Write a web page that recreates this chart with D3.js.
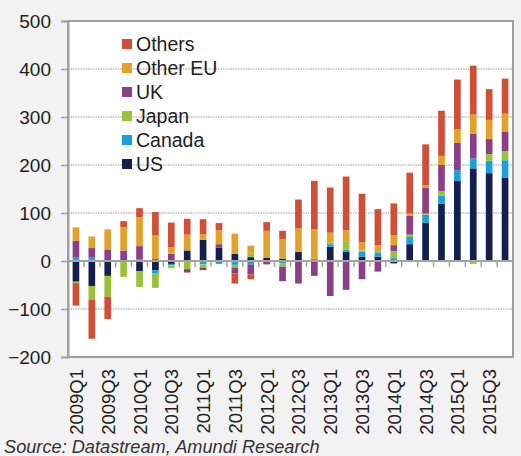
<!DOCTYPE html>
<meta charset="utf-8">
<style>
body{ margin: 0; background: #f3f2f2; font-family: "Liberation Sans", Arial, sans-serif; }
svg{ display: block; }
</style>
<body>
<script src="https://cdn.jsdelivr.net/npm/d3@7"></script>
<script>

var quarters = []
for (var yr = 2009; yr <= 2015; yr++) for (var q = 1; q <= 4; q++) quarters.push(yr + 'Q' + q)

// stacking order from the axis outwards
var series = ['US', 'Canada', 'Japan', 'UK', 'Other EU', 'Others']
var colors = ['#141f4e', '#1aa0dc', '#9bc13c', '#8b3f87', '#e2a128', '#d04f37']

var us      = [-43,-52,-31,  0,-21,-19, -6, 22, 44, 28, 15,  8,  7,  5, 19,  0, 30, 19,  9,  9, -5, 35, 80,119,167,193,183,174]
var canada  = [  7,  7,  0,  0,  3, -6, -3,  0, -7, -6, -8, -7, -2, -5,  0,  4,  5,  5, 10,  9,  6, 15, 16, 17, 22, 21, 26, 36]
var japan   = [ -3,-29,-43,-33,-33,-31, -6,-17, -7,  0, -6,  7,  0, -7,  0,  0,  3, 16,  3,  3, 15,  5,  3, 10,  0, -6, 14, 19]
var uk      = [ 35, 20, 24, 22, 28,  4, 15, -7, -5,  7,-12,-21, -5,-30,-47,-31,-73,-60,-38,-22, 12, 39, 53, 54, 57, 51, 31, 41]
var otherEu = [ 28, 24, 42, 49, 60, 49, 14, 33, 12, 29, 42, 17, 56, 41, 49, 62, 21, 24, 17, 12, 21,  5,  6, 19, 28, 40, 40, 37]
var others  = [-47,-81,-47, 12, 19, 49, 51, 33, 31, 15,-21,-10, 18, 17, 60,101, 94,112,101, 75, 66, 85, 85, 94,104,102, 64, 73]

var values = [us, canada, japan, uk, otherEu, others]
var yTicks = [-200, -100, 0, 100, 200, 300, 400, 500]
var xLabels = quarters.filter(function(d, i){ return i % 2 == 0 })

var W = 521, H = 456
var pL = 68, pR = 513, pT = 21, pB = 357

var svg = d3.select('body').append('svg').attr('width', W).attr('height', H)

var x = d3.scaleBand().domain(quarters).range([pL, pR]).paddingInner(0.58).paddingOuter(0.29)
var y = d3.scaleLinear().domain([-200, 500]).range([pB, pT])

svg.append('rect').attr('x', pL).attr('y', pT).attr('width', pR - pL).attr('height', pB - pT)
    .style('fill', 'white')

// dotted gridlines
svg.append('g').selectAll('line').data(yTicks.filter(function(d){ return d != 0 && d != 500 && d != -200 }))
  .enter().append('line')
    .attr('x1', pL).attr('x2', pR)
    .attr('y1', function(d){ return y(d) }).attr('y2', function(d){ return y(d) })
    .style('stroke', '#9a9a9a').style('stroke-width', 1).style('stroke-dasharray', '1.5,1')

// stacked bars, positives up and negatives down
var rows = quarters.map(function(q, i){
  var pos = 0, neg = 0
  return values.map(function(s, k){
    var v = s[i], y0, y1
    if (v >= 0){ y0 = pos; pos += v; y1 = pos }
    else { y0 = neg; neg += v; y1 = neg }
    return {q: q, k: k, y0: y0, y1: y1}
  })
})

svg.append('g').selectAll('g').data(rows).enter().append('g')
  .selectAll('rect').data(function(d){ return d.filter(function(c){ return c.y0 != c.y1 }) })
  .enter().append('rect')
    .attr('x', function(d){ return x(d.q) })
    .attr('width', x.bandwidth())
    .attr('y', function(d){ return y(Math.max(d.y0, d.y1)) })
    .attr('height', function(d){ return Math.abs(y(d.y0) - y(d.y1)) })
    .style('fill', function(d){ return colors[d.k] })

// zero line with small ticks between bars
var step = x.step()
svg.append('line').attr('x1', pL).attr('x2', pR).attr('y1', y(0)).attr('y2', y(0))
    .style('stroke', '#a3a3a3').style('stroke-width', 2)
svg.append('g').selectAll('line').data(d3.range(1, quarters.length))
  .enter().append('line')
    .attr('x1', function(i){ return pL + i * step }).attr('x2', function(i){ return pL + i * step })
    .attr('y1', y(0)).attr('y2', y(0) + 6)
    .style('stroke', '#a3a3a3').style('stroke-width', 1.5)

// frame
svg.append('rect').attr('x', pL).attr('y', pT).attr('width', pR - pL).attr('height', pB - pT)
    .style('fill', 'none').style('stroke', '#a0a0a0').style('stroke-width', 2)

// y axis
var yAxis = svg.append('g').attr('transform', 'translate(' + pL + ',0)')
    .call(d3.axisLeft(y).tickValues(yTicks).tickSize(7).tickPadding(10))
yAxis.select('.domain').style('stroke', '#a0a0a0').style('stroke-width', 2)
yAxis.selectAll('.tick line').style('stroke', '#a0a0a0').style('stroke-width', 1.5)
yAxis.selectAll('.tick text').style('font-size', '19px').style('fill', '#222')
    .style('font-family', '"Liberation Sans", Arial, sans-serif')

// x labels, rotated
svg.append('g').selectAll('text').data(xLabels).enter().append('text')
    .attr('transform', function(d){ return 'translate(' + (x(d) + x.bandwidth() / 2 + 7) + ',' + (pB + 12) + ') rotate(-90)' })
    .attr('text-anchor', 'end')
    .style('font-size', '18.5px').style('fill', '#222')
    .text(function(d){ return d })

// legend
var legendNames = series.slice().reverse()
var lg = svg.append('g').attr('transform', 'translate(122,45)')
var item = lg.selectAll('g').data(legendNames).enter().append('g')
    .attr('transform', function(d, i){ return 'translate(0,' + i * 24 + ')' })
item.append('rect').attr('x', 0).attr('y', -6).attr('width', 10).attr('height', 10)
    .style('fill', function(d){ return colors[series.indexOf(d)] })
item.append('text').attr('x', 14).attr('y', 6).style('font-size', '19.5px').style('fill', '#222')
    .text(function(d){ return d })

svg.append('text').attr('x', 4).attr('y', 453)
    .style('font-size', '18.2px').style('font-style', 'italic').style('fill', '#333')
    .text('Source: Datastream, Amundi Research')

</script>
